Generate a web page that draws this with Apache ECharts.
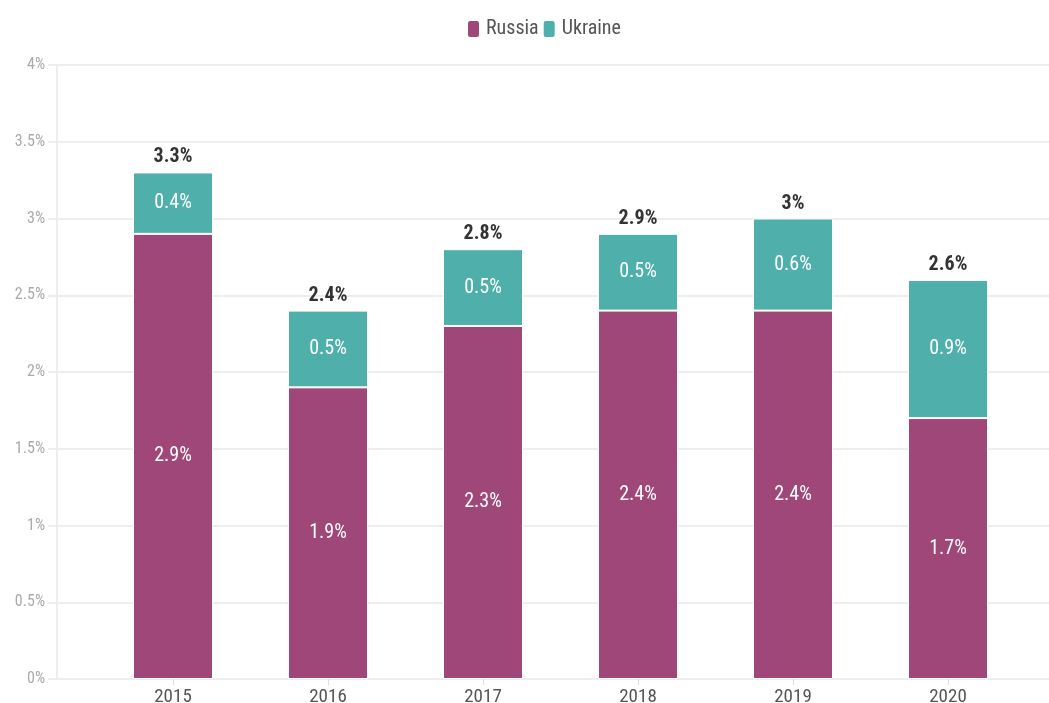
<!DOCTYPE html>
<html>
<head>
<meta charset="utf-8">
<script src="https://cdn.jsdelivr.net/npm/echarts@6/dist/echarts.min.js"></script>
<style>
  html, body { margin: 0; padding: 0; background: #fff; }
  #chart { width: 1049px; height: 703px; }
</style>
</head>
<body>
<div id="chart"></div>
<script>
const years = ['2015', '2016', '2017', '2018', '2019', '2020']
const russia = [2.9, 1.9, 2.3, 2.4, 2.4, 1.7]
const ukraine = [0.4, 0.5, 0.5, 0.5, 0.6, 0.9]
const totals = russia.map((v, i) => Math.round((v + ukraine[i]) * 10) / 10)

const font = '"Roboto Condensed", "Liberation Sans Narrow", Roboto, sans-serif'
const chart = echarts.init(document.getElementById('chart'))

const insideLabel = {
  show: true,
  position: 'inside',
  color: '#fff',
  fontSize: 20,
  fontFamily: font,
  formatter: p => p.value + '%'
}

chart.setOption({
  textStyle: { fontFamily: font },
  legend: {
    top: 14,
    left: 461,
    data: ['Russia', 'Ukraine'],
    icon: 'roundRect',
    itemWidth: 13,
    itemHeight: 18,
    itemGap: 3,
    textStyle: { color: '#555', fontSize: 20, fontFamily: font, padding: [0, 0, 0, 1] }
  },
  // grid 0 carries the frame and y axis, grid 1 the bars
  grid: [
    { left: 57, right: 0, top: 65, bottom: 24, outerBoundsMode: 'none' },
    { left: 95.5, right: 23.5, top: 65, bottom: 24, outerBoundsMode: 'none' }
  ],
  xAxis: [
    {
      gridIndex: 0,
      type: 'value',
      min: 0,
      max: 1,
      axisLine: { show: true, lineStyle: { color: '#eee', width: 2 } },
      axisTick: { show: false },
      axisLabel: { show: false },
      splitLine: { show: false }
    },
    {
      gridIndex: 1,
      type: 'category',
      data: years,
      axisLine: { show: false },
      axisTick: { show: true, alignWithLabel: true, length: 6, lineStyle: { color: '#ddd' } },
      axisLabel: { color: '#555', fontSize: 19, margin: 9, fontFamily: font }
    }
  ],
  yAxis: [
    {
      gridIndex: 0,
      type: 'value',
      min: 0,
      max: 4,
      interval: 0.5,
      axisLine: { show: true, lineStyle: { color: '#eee', width: 2 } },
      axisTick: { show: true, length: 9, lineStyle: { color: '#eee', width: 2 } },
      axisLabel: { color: '#aaa', fontSize: 16, margin: 12, fontFamily: font, formatter: v => v + '%' },
      splitLine: { lineStyle: { color: '#eee', width: 2 } }
    },
    {
      gridIndex: 1,
      type: 'value',
      min: 0,
      max: 4,
      interval: 0.5,
      show: false,
      splitLine: { show: false }
    }
  ],
  series: [
    {
      name: 'Russia',
      type: 'bar',
      stack: 'total',
      xAxisIndex: 1,
      yAxisIndex: 1,
      barWidth: 80,
      data: russia,
      itemStyle: { color: '#9e4778', borderColor: '#fff', borderWidth: 1 },
      label: insideLabel
    },
    {
      name: 'Ukraine',
      type: 'bar',
      stack: 'total',
      xAxisIndex: 1,
      yAxisIndex: 1,
      barWidth: 80,
      data: ukraine,
      itemStyle: { color: '#4fb0ab', borderColor: '#fff', borderWidth: 1 },
      label: insideLabel
    },
    {
      name: 'Total',
      type: 'bar',
      stack: 'total',
      xAxisIndex: 1,
      yAxisIndex: 1,
      barWidth: 80,
      data: totals.map(() => 0),
      itemStyle: { color: 'transparent' },
      label: {
        show: true,
        position: 'top',
        distance: 5,
        color: '#333',
        fontSize: 20,
        fontWeight: 'bold',
        fontFamily: font,
        formatter: p => totals[p.dataIndex] + '%'
      },
      silent: true
    }
  ]
})
</script>
</body>
</html>
